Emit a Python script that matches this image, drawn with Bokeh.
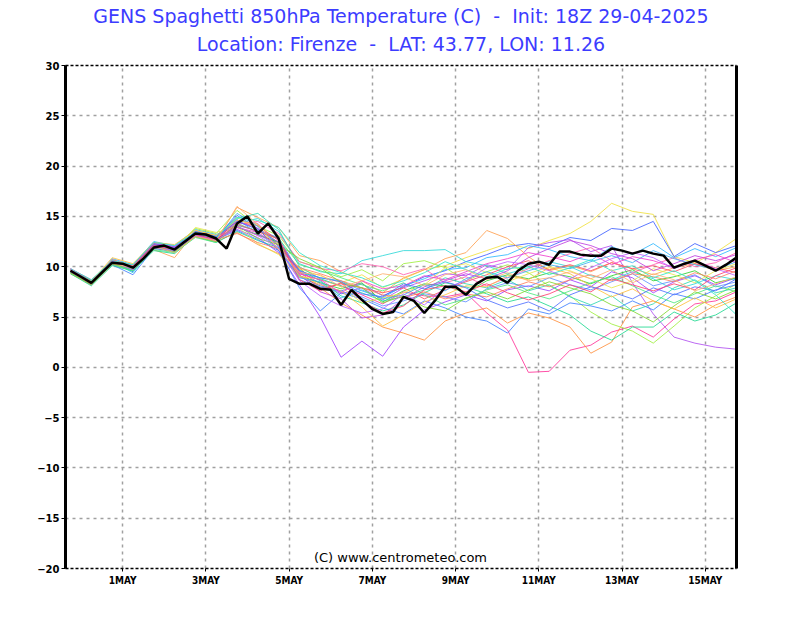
from bokeh.plotting import figure
from bokeh.models import Range1d, FixedTicker, LinearAxis, Label, Title
from bokeh.embed import file_html
from bokeh.resources import INLINE

# ---------------- data ----------------
NB = "\u00a0"
title_line1 = "GENS Spaghetti 850hPa Temperature (C) " + NB + "- " + NB + "Init: 18Z 29-04-2025"
title_line2 = "Location: Firenze " + NB + "- " + NB + "LAT: 43.77, LON: 11.26"
credit = "(C) www.centrometeo.com"

# hours since init (29-04-2025 18Z)
hours_6h = list(range(0, 385, 6))
hours_12h = list(range(0, 385, 12))

tick_hours = [30, 78, 126, 174, 222, 270, 318, 366]
tick_labels = ["1MAY", "3MAY", "5MAY", "7MAY", "9MAY", "11MAY", "13MAY", "15MAY"]
y_ticks = [-20, -15, -10, -5, 0, 5, 10, 15, 20, 25, 30]

# thick black line (control), 6-hourly
control = [9.6, 9.0, 8.4, 9.4, 10.4, 10.3, 9.9, 10.8, 11.9, 12.1, 11.7, 12.5, 13.3,
           13.2, 12.8, 11.8, 14.3, 15.0, 13.3, 14.3, 12.8, 8.8, 8.3, 8.3, 7.8, 7.7,
           6.2, 7.7, 6.7, 5.8, 5.3, 5.5, 7.0, 6.6, 5.4, 6.6, 8.0, 8.0, 7.2, 8.3,
           8.9, 9.0, 8.4, 9.6, 10.3, 10.5, 10.2, 11.5, 11.5, 11.2, 11.1, 11.1, 11.8,
           11.6, 11.3, 11.6, 11.3, 11.1, 9.9, 10.3, 10.6, 10.1, 9.6, 10.2, 10.9]

# ensemble members, 12-hourly
m01 = [9.5, 8.3, 10.6, 10.0, 12.1, 11.6, 13.6, 13.1, 14.9, 13.6, 12.2, 9.8, 9.1, 8.4, 9.2, 7.9,
       8.8, 9.7, 10.1, 10.9, 11.6, 12.3, 11.8, 12.6, 13.3, 14.5, 16.3, 15.5, 15.2, 11.0, 10.4, 11.4, 12.8]
m02 = [9.7, 8.5, 10.5, 9.5, 12.3, 11.8, 13.4, 12.9, 15.1, 13.8, 11.6, 9.0, 8.1, 7.6, 8.3, 7.1,
       8.0, 9.0, 9.6, 10.5, 11.2, 12.0, 12.3, 12.0, 12.9, 12.6, 13.8, 13.6, 14.5, 11.0, 12.3, 11.4, 12.1]
m03 = [9.4, 8.4, 10.3, 9.9, 11.8, 11.9, 13.2, 12.7, 14.0, 13.1, 12.5, 9.3, 8.7, 8.1, 7.2, 6.3,
       7.5, 7.1, 7.0, 7.4, 5.4, 3.7, -0.5, -0.4, 1.7, 2.2, 3.5, 4.1, 3.0, 4.8, 6.3, 6.6, 7.5]
m04 = [9.8, 8.6, 10.4, 10.1, 12.3, 11.9, 13.0, 12.8, 13.7, 12.9, 11.4, 8.2, 5.0, 1.0, 2.6, 1.1,
       4.0, 5.7, 6.5, 7.2, 6.6, 7.7, 8.1, 7.6, 8.7, 8.0, 9.5, 8.9, 7.4, 8.5, 9.1, 8.2, 8.9]
m05 = [9.6, 8.2, 10.7, 10.1, 12.4, 12.0, 13.2, 12.6, 14.6, 14.3, 12.1, 9.6, 8.3, 7.3, 7.9, 6.7,
       7.9, 8.6, 9.3, 9.1, 10.2, 9.7, 11.9, 12.4, 12.7, 11.5, 12.1, 8.4, 5.3, 3.0, 2.4, 2.0, 1.8]
m06 = [9.5, 8.4, 10.5, 9.4, 12.0, 11.4, 13.4, 12.9, 14.3, 14.8, 13.5, 10.3, 9.5, 9.3, 10.6, 11.1,
       11.6, 11.6, 11.7, 10.5, 10.1, 9.3, 9.9, 10.5, 10.0, 9.1, 8.7, 9.5, 8.8, 7.7, 8.3, 9.1, 8.7]
m07 = [9.3, 8.2, 10.2, 9.7, 11.7, 10.9, 13.5, 12.6, 15.9, 14.9, 13.9, 11.1, 10.6, 9.5, 8.6, 7.4,
       8.9, 9.7, 10.8, 11.4, 13.6, 12.8, 11.0, 9.6, 10.1, 9.5, 10.4, 9.8, 9.2, 9.9, 10.3, 9.6, 10.0]
m08 = [9.6, 8.5, 10.4, 9.9, 12.0, 11.6, 13.1, 12.5, 13.4, 12.2, 11.3, 9.9, 7.9, 6.4, 5.2, 4.0,
       3.4, 2.7, 4.6, 5.4, 5.9, 4.4, 5.4, 4.9, 4.0, 1.4, 2.5, 6.0, 6.6, 5.8, 5.0, 6.2, 7.0]
m09 = [9.4, 8.3, 10.8, 10.2, 12.5, 12.1, 13.7, 13.2, 14.1, 13.6, 12.9, 9.4, 8.9, 8.6, 7.6, 6.9,
       8.1, 8.8, 9.7, 9.9, 10.9, 11.2, 12.1, 11.7, 11.0, 10.6, 12.0, 11.2, 12.3, 10.9, 11.8, 11.0, 11.9]
m10 = [9.7, 8.6, 10.6, 10.0, 12.2, 11.8, 13.8, 13.3, 15.6, 14.0, 13.1, 10.5, 9.9, 9.0, 9.7, 8.6,
       10.3, 10.6, 9.9, 8.6, 9.5, 10.2, 9.4, 8.1, 7.1, 5.5, 4.3, 3.6, 2.4, 4.1, 5.9, 7.1, 8.3]
m11 = [9.5, 8.4, 10.3, 9.8, 11.9, 11.5, 13.1, 12.7, 13.9, 13.2, 12.4, 9.1, 8.4, 7.8, 8.4, 6.5,
       7.6, 8.3, 8.1, 7.4, 8.6, 9.2, 8.8, 9.4, 9.0, 8.3, 9.1, 9.7, 8.6, 9.0, 9.6, 8.4, 8.9]
m12 = [9.3, 8.1, 10.1, 9.6, 11.6, 11.3, 13.0, 12.4, 13.5, 12.6, 11.9, 9.7, 8.6, 7.1, 6.4, 5.6,
       6.2, 7.4, 8.4, 8.0, 7.3, 6.5, 7.0, 6.1, 5.2, 3.6, 2.7, 4.0, 4.0, 5.5, 4.6, 5.2, 6.4]
m13 = [9.6, 8.3, 10.5, 9.9, 12.1, 11.8, 13.3, 12.8, 14.4, 14.1, 12.6, 9.5, 7.8, 8.3, 7.9, 7.4,
       7.9, 6.8, 7.7, 8.5, 9.2, 10.0, 10.6, 9.7, 10.2, 9.6, 10.4, 9.8, 10.1, 9.5, 10.3, 9.9, 9.4]
m14 = [9.8, 8.7, 10.4, 9.7, 11.9, 11.9, 13.0, 12.5, 14.2, 14.5, 13.3, 10.5, 9.8, 9.6, 10.3, 10.0,
       9.2, 9.8, 8.4, 9.0, 8.1, 8.9, 9.8, 10.6, 11.3, 11.9, 10.6, 9.4, 10.2, 10.9, 10.0, 10.4, 11.4]
m15 = [9.5, 8.4, 10.6, 10.0, 12.2, 11.7, 13.5, 13.0, 14.7, 13.3, 11.9, 8.7, 8.0, 7.5, 7.0, 6.1,
       6.6, 7.3, 7.0, 6.5, 7.8, 8.4, 8.0, 8.9, 8.2, 7.7, 8.5, 9.3, 8.1, 8.6, 9.2, 8.0, 8.5]
m16 = [9.7, 8.5, 10.2, 9.2, 11.8, 11.5, 13.2, 12.7, 13.6, 12.7, 11.6, 7.9, 5.6, 7.4, 6.8, 5.9,
       5.3, 6.6, 5.9, 5.0, 4.6, 3.4, 5.8, 5.3, 6.4, 6.1, 5.6, 6.6, 5.7, 7.3, 6.8, 7.7, 8.2]
m17 = [9.4, 8.3, 10.4, 9.8, 12.0, 11.7, 13.9, 13.4, 14.0, 12.3, 11.2, 9.0, 8.8, 8.0, 6.4, 6.9,
       7.4, 8.2, 9.9, 10.3, 9.4, 8.5, 9.3, 10.0, 9.6, 8.8, 7.9, 8.6, 9.8, 9.2, 8.4, 9.6, 10.3]
m18 = [9.6, 8.6, 10.3, 9.7, 12.1, 11.6, 13.2, 12.8, 14.8, 15.3, 13.7, 10.0, 8.8, 8.1, 7.4, 6.6,
       7.0, 7.7, 8.9, 8.3, 7.9, 8.7, 7.6, 8.2, 7.0, 6.2, 7.1, 5.6, 6.3, 7.9, 8.7, 7.4, 7.9]
m19 = [9.5, 8.2, 10.5, 9.9, 12.3, 12.0, 13.4, 12.9, 14.5, 13.8, 12.7, 9.2, 7.5, 6.8, 4.9, 5.2,
       6.8, 8.0, 8.6, 9.3, 8.8, 9.6, 10.9, 11.8, 12.6, 12.1, 11.3, 10.8, 9.6, 10.3, 11.1, 10.6, 11.2]
m20 = [9.7, 8.4, 10.7, 10.1, 12.2, 11.7, 13.1, 12.7, 13.3, 12.4, 11.8, 9.9, 9.3, 8.6, 7.9, 7.2,
       6.9, 7.5, 6.8, 7.3, 7.0, 7.8, 8.5, 8.0, 8.7, 9.2, 8.6, 9.3, 9.0, 8.5, 9.4, 8.8, 9.6]
m21 = [9.4, 8.3, 10.2, 9.6, 11.7, 11.4, 12.9, 12.4, 14.3, 13.5, 12.8, 10.2, 9.6, 8.9, 8.2, 7.6,
       8.4, 7.2, 6.2, 6.8, 7.7, 8.2, 7.4, 6.8, 7.6, 8.4, 9.0, 8.1, 7.2, 6.4, 7.3, 8.1, 7.5]
m22 = [9.6, 8.5, 10.9, 10.3, 12.4, 12.2, 13.6, 13.1, 14.6, 14.2, 12.3, 9.1, 8.2, 7.6, 6.0, 4.1,
       5.2, 6.5, 7.2, 8.1, 8.0, 9.1, 8.7, 9.9, 9.3, 8.1, 7.0, 7.8, 6.6, 5.8, 6.9, 5.9, 6.8]
m23 = [9.5, 8.4, 10.4, 9.8, 12.0, 11.6, 13.3, 12.8, 15.3, 14.0, 12.0, 8.9, 8.5, 6.9, 7.7, 6.8,
       7.2, 8.2, 7.6, 8.8, 9.5, 8.9, 9.6, 10.2, 9.8, 10.5, 11.1, 10.4, 11.6, 10.8, 10.2, 9.7, 10.5]
m24 = [9.7, 8.5, 10.6, 10.0, 12.1, 11.8, 13.2, 12.6, 13.9, 13.4, 12.1, 9.3, 8.7, 7.4, 8.6, 7.8,
       8.1, 9.1, 8.7, 9.5, 10.3, 10.8, 11.4, 11.0, 10.5, 11.3, 10.2, 11.0, 10.6, 9.9, 10.7, 11.2, 10.4]
m25 = [9.4, 8.2, 10.3, 9.8, 12.0, 11.5, 13.0, 12.5, 14.1, 12.8, 12.2, 10.8, 9.9, 8.4, 7.9, 6.4,
       7.1, 6.0, 5.6, 6.9, 7.5, 6.8, 7.7, 8.5, 7.9, 7.3, 6.2, 5.6, 4.5, 6.1, 7.5, 6.8, 7.7]
m26 = [9.6, 8.4, 10.5, 9.9, 12.2, 11.9, 13.5, 13.0, 14.5, 13.7, 12.4, 9.6, 8.9, 8.5, 7.3, 7.0,
       8.3, 7.8, 8.5, 7.9, 6.7, 5.9, 6.5, 5.6, 7.2, 8.0, 7.5, 6.8, 7.9, 7.2, 8.0, 7.6, 8.8]
m27 = [9.5, 8.3, 10.4, 10.0, 12.1, 11.7, 13.2, 12.7, 14.2, 13.5, 12.8, 8.7, 7.6, 8.4, 6.6, 5.4,
       6.1, 7.7, 8.1, 7.5, 8.3, 7.4, 6.7, 7.3, 8.2, 7.5, 8.8, 8.2, 7.6, 8.3, 7.7, 9.1, 9.9]
m28 = [9.8, 8.7, 10.6, 10.2, 12.4, 12.1, 13.4, 12.9, 14.9, 14.6, 13.9, 11.4, 10.1, 9.4, 8.9, 8.0,
       8.6, 9.4, 10.5, 9.7, 9.0, 9.8, 10.0, 9.2, 9.9, 10.7, 9.6, 10.1, 8.9, 9.6, 8.6, 7.2, 5.2]
m29 = [9.5, 8.4, 10.5, 9.7, 11.9, 11.6, 13.1, 12.6, 14.0, 13.1, 11.8, 8.6, 7.1, 6.1, 5.4, 5.8,
       7.3, 6.2, 7.9, 8.6, 9.9, 10.5, 10.2, 9.6, 8.8, 9.9, 10.8, 11.4, 10.9, 9.8, 10.6, 9.8, 9.1]
m30 = [9.6, 8.5, 10.3, 9.9, 12.0, 11.4, 13.0, 12.6, 16.0, 14.2, 11.7, 9.4, 9.2, 8.0, 8.6, 9.3,
       9.0, 8.1, 9.2, 9.7, 8.7, 9.4, 8.6, 8.9, 9.5, 8.8, 9.7, 8.4, 9.3, 8.7, 7.6, 8.3, 9.0]

members = [m01, m02, m03, m04, m05, m06, m07, m08, m09, m10, m11, m12, m13, m14, m15,
           m16, m17, m18, m19, m20, m21, m22, m23, m24, m25, m26, m27, m28, m29, m30]
member_colors = ["#f0e040", "#4060ff", "#ff3399", "#a040ff", "#b050f0", "#30d8d8", "#ffa050",
                 "#ff9040", "#30b8ff", "#a0ee40", "#30d030", "#20d890", "#ff5060", "#ff60b0",
                 "#6090ff", "#4080ff", "#e8e850", "#30d8b0", "#c040e0", "#ff8060", "#50e880",
                 "#ffc040", "#40b0f0", "#f040d0", "#80d830", "#5070ff", "#ff4070", "#30e8c8",
                 "#c060ff", "#ffb070"]

# ---------------- figure ----------------
p = figure(width=792, height=610, output_backend="svg", toolbar_location=None,
           x_range=Range1d(-2.9, 384), y_range=Range1d(-20, 30), title=None,
           min_border_left=65, min_border_right=56, min_border_top=65, min_border_bottom=42)
p.background_fill_color = "white"
p.border_fill_color = "white"
p.outline_line_color = None

grid_color = "#a0a0a0"
p.xgrid.ticker = FixedTicker(ticks=tick_hours)
p.ygrid.ticker = FixedTicker(ticks=[t for t in y_ticks if -20 < t < 30])
for g in (p.xgrid, p.ygrid):
    g.grid_line_color = grid_color
    g.grid_line_width = 1.5
    g.grid_line_dash = "3 4"

lab_font = "DejaVu Sans Condensed, DejaVu Sans"

xa = p.xaxis[0]
xa.ticker = FixedTicker(ticks=tick_hours)
xa.major_label_overrides = {h: l for h, l in zip(tick_hours, tick_labels)}
xa.axis_line_color = "black"
xa.axis_line_width = 1.5
xa.axis_line_dash = "3 2"
xa.major_tick_out = 3
xa.major_tick_in = 0
xa.minor_tick_line_color = None
xa.major_label_text_font = lab_font
xa.major_label_text_font_style = "bold"
xa.major_label_text_font_size = "10px"
xa.major_label_text_color = "black"
xa.major_label_standoff = 3

ya = p.yaxis[0]
ya.ticker = FixedTicker(ticks=y_ticks)
ya.axis_line_color = "black"
ya.axis_line_width = 3
ya.major_tick_out = 4
ya.major_tick_in = 0
ya.minor_tick_line_color = None
ya.major_label_text_font = "DejaVu Sans"
ya.major_label_text_font_style = "bold"
ya.major_label_text_font_size = "10px"
ya.major_label_text_color = "black"
ya.major_label_standoff = 2

right_ax = LinearAxis(ticker=FixedTicker(ticks=[]), axis_line_width=3, axis_line_color="black",
                      major_tick_line_color=None, minor_tick_line_color=None,
                      major_label_text_font_size="0px")
p.add_layout(right_ax, "right")
top_ax = LinearAxis(ticker=FixedTicker(ticks=[]), axis_line_width=1.5, axis_line_color="black",
                    axis_line_dash="3 2", major_tick_line_color=None, minor_tick_line_color=None,
                    major_label_text_font_size="0px")
p.add_layout(top_ax, "above")

title_color = "#3c3cff"
p.add_layout(Title(text=title_line2, align="center", text_font="DejaVu Sans",
                   text_font_size="19px", text_font_style="normal", text_color=title_color,
                   standoff=22), "above")
p.add_layout(Title(text=title_line1, align="center", text_font="DejaVu Sans",
                   text_font_size="19px", text_font_style="normal", text_color=title_color,
                   standoff=-14), "above")

for vals, col in zip(members, member_colors):
    p.line(hours_12h, vals, line_color=col, line_width=1, line_alpha=0.85)

p.line(hours_6h, control, line_color="black", line_width=2.5)

p.add_layout(Label(x=335, y=11, x_units="screen", y_units="screen", text=credit,
                   text_align="center", text_baseline="middle", text_font="DejaVu Sans",
                   text_font_size="13px", text_color="black"))

open("out.html", "w").write(file_html(p, INLINE))
